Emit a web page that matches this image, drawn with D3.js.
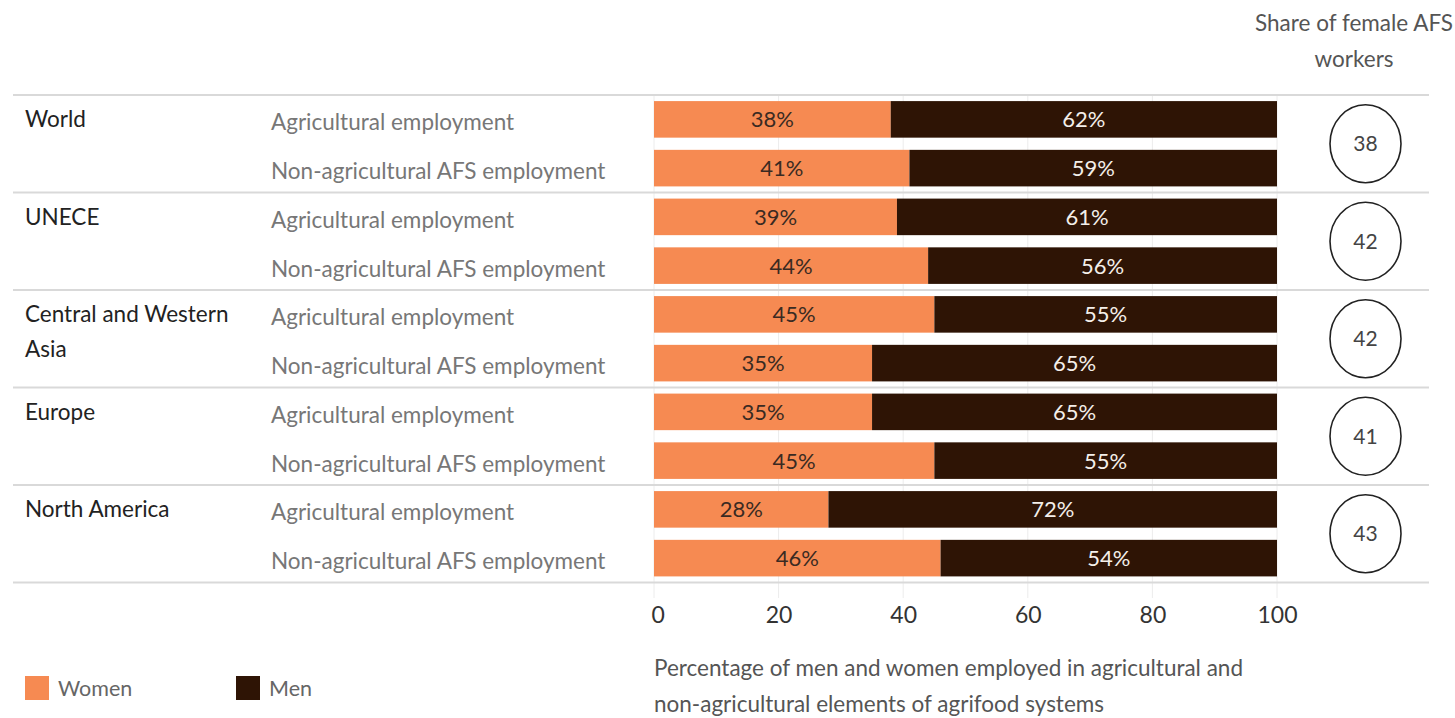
<!DOCTYPE html>
<html>
<head>
<meta charset="utf-8">
<script src="https://cdn.jsdelivr.net/npm/d3@7"></script>
<style>
  body { margin: 0; background: #fff; }
  svg text { font-family: Lato, "Noto Sans", sans-serif; }
</style>
</head>
<body>
<svg id="chart" width="1455" height="718"></svg>
<script>
// Regions, employment types and shares (%)
const regions = ["World", "UNECE", "Central and Western Asia", "Europe", "North America"];
const regionLines = [["World"], ["UNECE"], ["Central and Western", "Asia"], ["Europe"], ["North America"]];
const sectors = ["Agricultural employment", "Non-agricultural AFS employment"];
const womenShare = [[38, 41], [39, 44], [45, 35], [35, 45], [28, 46]];
const menShare = [[62, 59], [61, 56], [55, 65], [65, 55], [72, 54]];
const femaleWorkers = [38, 42, 42, 41, 43];
const ticks = [0, 20, 40, 60, 80, 100];
const seriesNames = ["Women", "Men"];
const colors = ["#F68A52", "#2E1405"];

const svg = d3.select("#chart");

const rows = [];
regions.forEach((r, i) => sectors.forEach((s, j) => rows.push({
  key: r + "|" + s, region: i, sector: s,
  women: womenShare[i][j], men: menShare[i][j]
})));

const x = d3.scaleLinear().domain([0, 100]).range([654, 1277]);
const yGroup = d3.scaleBand().domain(regions).range([95, 582.5]);
const yRow = d3.scaleBand().domain(rows.map(d => d.key)).range([95, 582.5])
  .paddingInner(0.25).paddingOuter(0.125);

// vertical gridlines
svg.append("g").selectAll("line").data(ticks).join("line")
  .attr("x1", d => x(d)).attr("x2", d => x(d))
  .attr("y1", 95).attr("y2", 598)
  .attr("stroke", "#ececec").attr("stroke-width", 1);

// group separators
const seps = regions.map(r => yGroup(r)).concat([yGroup.range()[1]]);
svg.append("g").selectAll("line").data(seps).join("line")
  .attr("x1", 13).attr("x2", 1429)
  .attr("y1", d => d).attr("y2", d => d)
  .attr("stroke", "#d9d9d9").attr("stroke-width", 2);

// stacked bars
const stack = d3.stack().keys(["women", "men"]);
const stacked = stack(rows);
const barG = svg.append("g");
stacked.forEach((layer, li) => {
  barG.append("g").selectAll("rect").data(layer).join("rect")
    .attr("x", d => x(d[0]))
    .attr("width", d => x(d[1]) - x(d[0]))
    .attr("y", d => yRow(d.data.key))
    .attr("height", yRow.bandwidth())
    .attr("fill", colors[li]);
  barG.append("g").selectAll("text").data(layer).join("text")
    .attr("x", d => (x(d[0]) + x(d[1])) / 2)
    .attr("y", d => yRow(d.data.key) + yRow.bandwidth() / 2)
    .attr("dy", "0.36em")
    .attr("text-anchor", "middle")
    .attr("font-size", 22)
    .attr("fill", li === 0 ? "#3a2a22" : "#f4efea")
    .text(d => (d[1] - d[0]) + "%");
});

// region labels
const regG = svg.append("g");
regionLines.forEach((lines, i) => {
  const t = regG.append("text")
    .attr("x", 25).attr("y", yGroup(regions[i]) + 24)
    .attr("font-size", 22.5).attr("fill", "#222");
  lines.forEach((ln, k) => t.append("tspan").attr("x", 25).attr("dy", k === 0 ? "0.36em" : 35).text(ln));
});

// sector labels
svg.append("g").selectAll("text").data(rows).join("text")
  .attr("x", 271)
  .attr("y", d => yRow(d.key) + yRow.bandwidth() / 2 + 3)
  .attr("dy", "0.36em")
  .attr("font-size", 22.5).attr("fill", "#777")
  .text(d => d.sector);

// share of female workers
const shareG = svg.append("g");
shareG.selectAll("ellipse").data(femaleWorkers).join("ellipse")
  .attr("cx", 1365.5)
  .attr("cy", (d, i) => yGroup(regions[i]) + yGroup.bandwidth() / 2)
  .attr("rx", 35.5).attr("ry", 39)
  .attr("fill", "none").attr("stroke", "#222").attr("stroke-width", 1.6);
shareG.selectAll("text").data(femaleWorkers).join("text")
  .attr("x", 1365.5)
  .attr("y", (d, i) => yGroup(regions[i]) + yGroup.bandwidth() / 2)
  .attr("dy", "0.36em").attr("text-anchor", "middle")
  .attr("font-size", 21).attr("fill", "#444")
  .text(d => d);

const head = svg.append("text").attr("text-anchor", "middle")
  .attr("font-size", 22.5).attr("fill", "#555");
head.append("tspan").attr("x", 1354).attr("y", 31).text("Share of female AFS");
head.append("tspan").attr("x", 1354).attr("y", 67).text("workers");

// x axis
const axis = d3.axisBottom(x).tickValues(ticks).tickSize(0).tickPadding(0);
const axG = svg.append("g").attr("transform", "translate(0,615)").call(axis);
axG.select(".domain").remove();
axG.selectAll("text")
  .attr("font-size", 23).attr("fill", "#333")
  .attr("dy", "0.36em").attr("y", 0)
  .style("font-family", "Lato, 'Noto Sans', sans-serif")
  .attr("text-anchor", (d, i) => i === 0 ? "start" : i === ticks.length - 1 ? "end" : "middle")
  .attr("dx", (d, i) => i === 0 ? -3 : i === ticks.length - 1 ? 20 : 0);

const axTitle = svg.append("text").attr("font-size", 22.5).attr("fill", "#555");
axTitle.append("tspan").attr("x", 654).attr("y", 676).text("Percentage of men and women employed in agricultural and");
axTitle.append("tspan").attr("x", 654).attr("y", 712).text("non-agricultural elements of agrifood systems");

// legend
const legX = [25, 236];
const leg = svg.append("g").selectAll("g").data(seriesNames).join("g")
  .attr("transform", (d, i) => `translate(${legX[i]},676)`);
leg.append("rect").attr("width", 24).attr("height", 24)
  .attr("fill", (d, i) => colors[i]);
leg.append("text").attr("x", 33).attr("y", 12).attr("dy", "0.36em")
  .attr("font-size", 21.5).attr("fill", "#666").text(d => d);
</script>
</body>
</html>
